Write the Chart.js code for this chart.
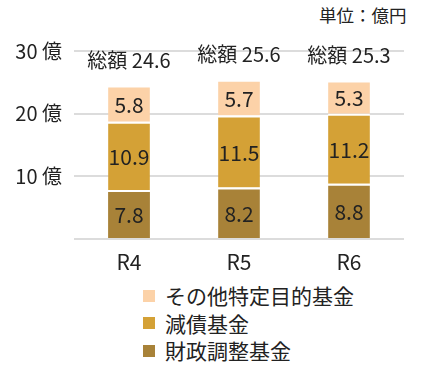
<!DOCTYPE html>
<html>
<head>
<meta charset="utf-8">
<script src="https://cdn.jsdelivr.net/npm/chart.js@4"></script>
<style>
    body { margin: 0; background: #fff; font-family: "Noto Sans CJK JP", sans-serif; color: #222; }
    #wrap { position: relative; width: 448px; height: 367px; }
    #unit { position: absolute; left: 319px; top: 2px; font-size: 17.5px; }
    #chartBox { position: absolute; left: 0; top: 0; width: 448px; height: 280px; }
    #legend { position: absolute; left: 143px; top: 282px; font-size: 21px; line-height: 27.5px; }
    #legend .item { display: flex; align-items: center; }
    #legend .box { width: 12px; height: 12px; margin-right: 10px; }
</style>
</head>
<body>
<div id="wrap">
    <div id="unit">単位：億円</div>
    <div id="chartBox"><canvas id="fundChart"></canvas></div>
    <div id="legend"></div>
</div>
<script>
// 基金残高（億円）
const years = ["R4", "R5", "R6"];
const zaiseiChousei = [7.8, 8.2, 8.8];   // 財政調整基金
const gensai = [10.9, 11.5, 11.2];       // 減債基金
const sonota = [5.8, 5.7, 5.3];          // その他特定目的基金
const totals = [24.6, 25.6, 25.3];
const yTicks = [0, 10, 20, 30];

const FONT = "'Noto Sans CJK JP', sans-serif";

// 棒の中の数値と総額
const labelPlugin = {
    id: "labels",
    afterDatasetsDraw(chart) {
        const ctx = chart.ctx;
        ctx.save();
        ctx.fillStyle = "#222";
        ctx.textAlign = "center";
        ctx.textBaseline = "middle";
        ctx.font = "21px " + FONT;
        chart.data.datasets.forEach((ds, i) => {
            chart.getDatasetMeta(i).data.forEach((bar, j) => {
                ctx.fillText(ds.data[j].toFixed(1), bar.x, (bar.y + bar.base) / 2 + 1);
            });
        });
        ctx.font = "20px " + FONT;
        const top = chart.getDatasetMeta(chart.data.datasets.length - 1).data;
        top.forEach((bar, j) => {
            ctx.fillText("総額 " + totals[j].toFixed(1), bar.x, bar.y - 25);
        });
        ctx.restore();
    },
};

const ctxFund = document.getElementById("fundChart").getContext("2d");

const fundChart = new Chart(ctxFund, {
    type: "bar",
    data: {
        labels: years,
        datasets: [
            {
                label: "財政調整基金",
                data: zaiseiChousei,
                backgroundColor: "#a88238",
            },
            {
                label: "減債基金",
                data: gensai,
                backgroundColor: "#d4a136",
            },
            {
                label: "その他特定目的基金",
                data: sonota,
                backgroundColor: "#fcd2a8",
            },
        ].map((d) => ({
            ...d,
            borderColor: "#fff",
            borderWidth: { top: 2, bottom: 0, left: 0, right: 0 },
            borderSkipped: false,
            barPercentage: 0.38,
            categoryPercentage: 1,
        })),
    },
    options: {
        responsive: true,
        maintainAspectRatio: false,
        animation: false,
        layout: {
            padding: { top: 51, right: 44, bottom: 0, left: 0 },
        },
        plugins: {
            legend: { display: false },
            tooltip: { enabled: false },
        },
        scales: {
            x: {
                stacked: true,
                grid: { display: false },
                border: { display: false },
                ticks: {
                    color: "#222",
                    font: { size: 21, family: FONT },
                    padding: 2,
                },
                afterFit: (scale) => { scale.height = 41; },
            },
            y: {
                stacked: true,
                min: 0,
                max: 30,
                afterBuildTicks: (scale) => {
                    scale.ticks = yTicks.map((v) => ({ value: v }));
                },
                grid: {
                    color: "#dcdcdc",
                    lineWidth: 2,
                    drawTicks: false,
                },
                border: { display: false },
                ticks: {
                    color: "#222",
                    font: { size: 20, family: FONT },
                    padding: 12,
                    callback: (value) => (value === 0 ? "" : `${value} 億`),
                },
                afterFit: (scale) => { scale.width = 74; },
            },
        },
    },
    plugins: [labelPlugin],
});

// 凡例（上から：その他 → 減債 → 財政調整）
const legendEl = document.getElementById("legend");
fundChart.data.datasets.slice().reverse().forEach((ds) => {
    const item = document.createElement("div");
    item.className = "item";
    item.innerHTML = `<span class="box" style="background:${ds.backgroundColor}"></span>${ds.label}`;
    legendEl.appendChild(item);
});
</script>
</body>
</html>
